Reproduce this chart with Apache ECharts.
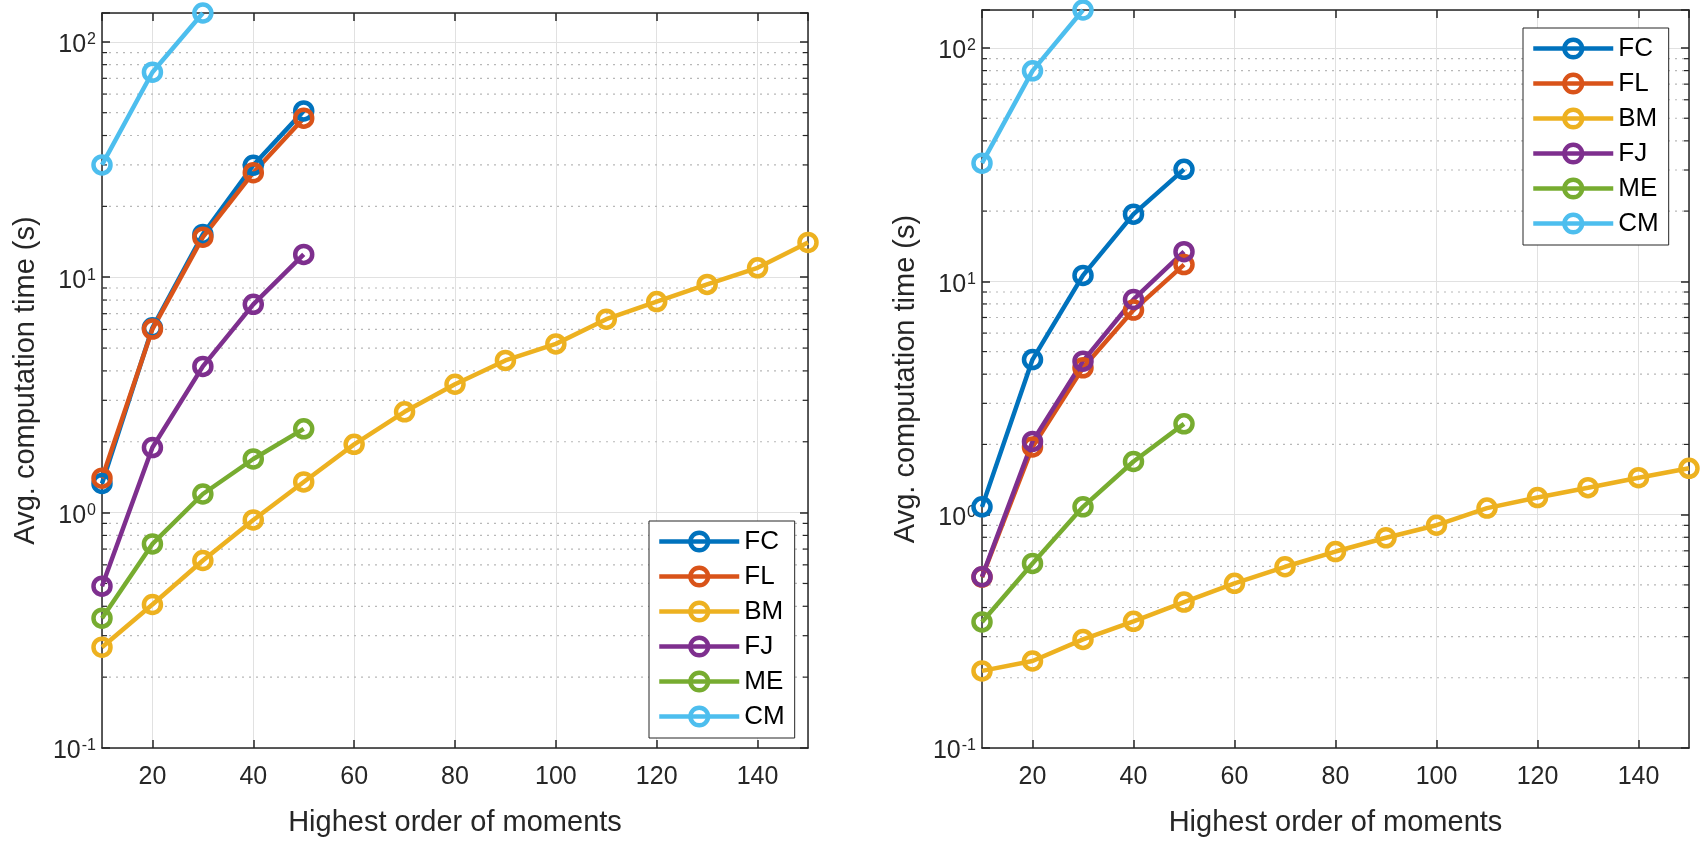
<!DOCTYPE html>
<html>
<head>
<meta charset="utf-8">
<title>Avg. computation time</title>
<script src="https://cdn.jsdelivr.net/npm/echarts@6/dist/echarts.min.js"></script>
<style>
  html, body { margin: 0; padding: 0; background: #fff; }
  #main { width: 1700px; height: 842px; }
</style>
</head>
<body>
<div id="main"></div>
<script>
// highest order of moments (x axis)
var orders = [10, 20, 30, 40, 50, 60, 70, 80, 90, 100, 110, 120, 130, 140, 150];
var names = ['FC', 'FL', 'BM', 'FJ', 'ME', 'CM'];
var colors = ['#0072BD', '#D95319', '#EDB120', '#7E2F8E', '#77AC30', '#4DBEEE'];

// left panel
var leftFC = [1.33, 6.1, 15.2, 29.9, 50.9];
var leftFL = [1.40, 6.02, 14.8, 27.8, 47.4];
var leftBM = [0.268, 0.407, 0.626, 0.931, 1.35, 1.95, 2.68, 3.51, 4.43, 5.21, 6.63, 7.88, 9.32, 10.96, 14.05];
var leftFJ = [0.487, 1.89, 4.18, 7.67, 12.5];
var leftME = [0.356, 0.736, 1.20, 1.69, 2.27];
var leftCM = [30.0, 74.3, 132.6];

// right panel
var rightFC = [1.08, 4.62, 10.6, 19.4, 30.2];
var rightFL = [0.54, 1.95, 4.26, 7.53, 11.8];
var rightBM = [0.214, 0.236, 0.292, 0.349, 0.422, 0.508, 0.598, 0.695, 0.796, 0.901, 1.067, 1.184, 1.305, 1.44, 1.58];
var rightFJ = [0.542, 2.06, 4.55, 8.36, 13.4];
var rightME = [0.347, 0.618, 1.08, 1.69, 2.45];
var rightCM = [32.1, 79.8, 145.5];

// axis limits
var xMin = 10, xMax = 150;
var yMin = 0.1;
var yMaxLeft = 132.6, yMaxRight = 145.5;
// minor (dotted) grid values of the log axis
var minorVals = [0.2, 0.3, 0.4, 0.5, 0.6, 0.7, 0.8, 0.9,
                 2, 3, 4, 5, 6, 7, 8, 9,
                 20, 30, 40, 50, 60, 70, 80, 90];

var FONT = 'Liberation Sans';
var AX = '#262626';

var chart = echarts.init(document.getElementById('main'));

function zip(vals) {
    var out = [];
    for (var i = 0; i < vals.length; i++) out.push([orders[i], vals[i]]);
    return out;
}

function powLabel(v) {
    var e = Math.log(v) / Math.LN10;
    if (Math.abs(e - Math.round(e)) > 1e-6) return '';
    return '{b|10}{s|' + Math.round(e) + '}';
}

function xAxes(gi) {
    return [{
        type: 'value', gridIndex: gi, position: 'bottom',
        min: xMin, max: xMax, splitNumber: 7,
        name: 'Highest order of moments', nameLocation: 'middle', nameGap: 60,
        nameTextStyle: { fontFamily: FONT, fontSize: 29, color: AX },
        axisLine: { show: true, lineStyle: { color: AX, width: 1.5 } },
        axisTick: { inside: true, length: 8, lineStyle: { color: AX, width: 1.5 } },
        axisLabel: { showMinLabel: false, showMaxLabel: false, margin: 17,
                     fontFamily: FONT, fontSize: 25, color: AX },
        splitLine: { show: true, lineStyle: { color: '#e1e1e1', width: 1 } }
    }, {
        type: 'value', gridIndex: gi, position: 'top',
        min: xMin, max: xMax, splitNumber: 7,
        axisLine: { show: true, lineStyle: { color: AX, width: 1.5 } },
        axisTick: { inside: true, length: 8, lineStyle: { color: AX, width: 1.5 } },
        axisLabel: { show: false },
        splitLine: { show: false }
    }];
}

function yAxes(gi, yMax) {
    return [{
        type: 'log', logBase: 10, gridIndex: gi, position: 'left',
        min: yMin, max: yMax, splitNumber: 3,
        name: 'Avg. computation time (s)', nameLocation: 'middle', nameGap: 62,
        nameTextStyle: { fontFamily: FONT, fontSize: 29, color: AX },
        axisLine: { show: true, lineStyle: { color: AX, width: 1.5 } },
        axisTick: { inside: true, length: 8, lineStyle: { color: AX, width: 1.5 } },
        axisLabel: {
            margin: 6, formatter: powLabel, color: AX,
            rich: {
                b: { fontFamily: FONT, fontSize: 25, lineHeight: 26, color: AX, padding: [7, 0, 0, 0] },
                s: { fontFamily: FONT, fontSize: 16, lineHeight: 17, color: AX, padding: [6, 0, 10, 1] }
            }
        },
        splitLine: { show: true, lineStyle: { color: '#e1e1e1', width: 1 } }
    }, {
        type: 'log', logBase: 10, gridIndex: gi, position: 'right',
        min: yMin, max: yMax, splitNumber: 3,
        axisLine: { show: true, lineStyle: { color: AX, width: 1.5 } },
        axisTick: { inside: true, length: 8, lineStyle: { color: AX, width: 1.5 } },
        axisLabel: { show: false },
        splitLine: { show: false }
    }];
}

// dotted minor grid + minor ticks on both sides
function minorSeries(xi, yi) {
    return {
        type: 'custom', xAxisIndex: xi, yAxisIndex: yi, silent: true, z: 1,
        encode: { x: 0, y: 1 },
        data: minorVals.map(function (v) { return [xMin, v]; }),
        renderItem: function (params, api) {
            var cs = params.coordSys;
            var y = api.coord([api.value(0), api.value(1)])[1];
            return {
                type: 'group', children: [
                    { type: 'line', shape: { x1: cs.x, y1: y, x2: cs.x + cs.width, y2: y },
                      style: { stroke: '#b8b8b8', lineWidth: 1.2, lineDash: [2, 5] } },
                    { type: 'line', shape: { x1: cs.x, y1: y, x2: cs.x + 5, y2: y },
                      style: { stroke: AX, lineWidth: 1.2 } },
                    { type: 'line', shape: { x1: cs.x + cs.width - 5, y1: y, x2: cs.x + cs.width, y2: y },
                      style: { stroke: AX, lineWidth: 1.2 } }
                ]
            };
        }
    };
}

function lineSeries(name, vals, xi, yi) {
    var c = colors[names.indexOf(name)];
    return {
        name: name, type: 'line', xAxisIndex: xi, yAxisIndex: yi,
        data: zip(vals), clip: false, z: 3,
        symbol: 'circle', symbolSize: 17,
        lineStyle: { color: c, width: 4.5 },
        itemStyle: { color: 'rgba(255,255,255,0)', borderColor: c, borderWidth: 4.5 },
        emphasis: { disabled: true }
    };
}

function legendAt(left, top) {
    return {
        data: names, orient: 'vertical', left: left, top: top,
        backgroundColor: '#fff', borderColor: AX, borderWidth: 1, borderRadius: 0,
        padding: [7, 10, 8, 8], itemGap: 8, itemWidth: 80, itemHeight: 22,
        selectedMode: false,
        lineStyle: { width: 4.5 },
        itemStyle: { borderWidth: 4.5 },
        textStyle: { fontFamily: FONT, fontSize: 26, color: '#000', lineHeight: 27 }
    };
}

var leftSets = [leftFC, leftFL, leftBM, leftFJ, leftME, leftCM];
var rightSets = [rightFC, rightFL, rightBM, rightFJ, rightME, rightCM];

var series = [minorSeries(0, 0), minorSeries(2, 2)];
for (var i = 0; i < names.length; i++) series.push(lineSeries(names[i], leftSets[i], 0, 0));
for (var j = 0; j < names.length; j++) series.push(lineSeries(names[j], rightSets[j], 2, 2));

var option = {
    animation: false,
    backgroundColor: '#fff',
    grid: [
        { left: 102, top: 13, width: 706, height: 741 },
        { left: 982, top: 10, width: 707, height: 746 }
    ],
    xAxis: xAxes(0).concat(xAxes(1)),
    yAxis: yAxes(0, yMaxLeft).concat(yAxes(1, yMaxRight)),
    legend: [legendAt(649, 521), legendAt(1523, 28)],
    series: series
};

chart.setOption(option);
</script>
</body>
</html>
